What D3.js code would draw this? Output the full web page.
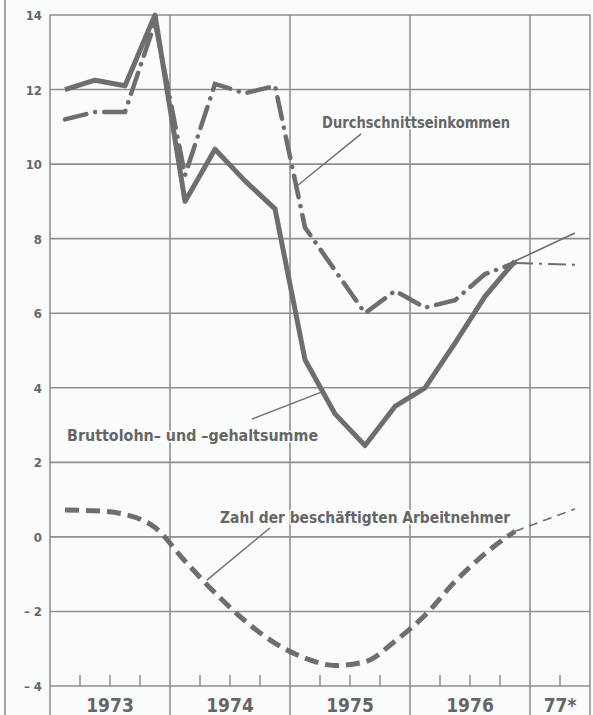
<!DOCTYPE html>
<html>
<head>
<meta charset="utf-8">
<script src="https://d3js.org/d3.v7.min.js"></script>
<style>
    body { margin: 0; background: #fafbfb; }
    text { font-family: "DejaVu Sans Condensed", "DejaVu Sans", sans-serif; fill: #666666; }
</style>
</head>
<body>
<div id="chart"></div>
<script>

    // quarters 1973-1976, plus the 1977 estimate (2nd quarter)
    var quarters = ["1973-1", "1973-2", "1973-3", "1973-4",
                    "1974-1", "1974-2", "1974-3", "1974-4",
                    "1975-1", "1975-2", "1975-3", "1975-4",
                    "1976-1", "1976-2", "1976-3", "1976-4"]
    var forecastQuarter = "1977-2"

    // change against previous year, percent
    var bruttolohn   = [12.0, 12.25, 12.1, 14.0, 9.0, 10.4, 9.55, 8.8, 4.75, 3.3, 2.45, 3.5, 4.0, 5.2, 6.45, 7.4]
    var durchschnitt = [11.2, 11.4, 11.4, 13.8, 9.7, 12.15, 11.9, 12.1, 8.3, 7.15, 6.0, 6.6, 6.15, 6.35, 7.05, 7.35]
    var arbeitnehmer = [0.72, 0.7, 0.6, 0.25, -0.65, -1.5, -2.25, -2.85, -3.25, -3.45, -3.35, -2.8, -2.1, -1.2, -0.45, 0.15]

    // 1977 estimates (thin lines)
    var bruttolohn77 = 8.15
    var durchschnitt77 = 7.3
    var arbeitnehmer77 = 0.75

    var years = ["1973", "1974", "1975", "1976", "77*"]
    var yearStart = [0, 4, 8, 12, 16, 18]      // in quarters
    var yTicks = [-4, -2, 0, 2, 4, 6, 8, 10, 12, 14]

    var W = 593, H = 715
    var margin = { top: 15, right: 3, bottom: 29, left: 50 }

    var svg = d3.select("#chart")
        .append("svg")
        .attr("width", W)
        .attr("height", H)

    // quarter index -> x, centre of quarter is index + 0.5
    var x = d3.scaleLinear()
        .domain([0, 18])
        .range([margin.left, W - margin.right])

    var y = d3.scaleLinear()
        .domain([-4, 14])
        .range([H - margin.bottom, margin.top])

    function qx(q) {
        var p = q.split("-")
        return (+p[0] - 1973) * 4 + (+p[1] - 1) + 0.5
    }

    var gridColor = "#8f8f8f"
    var lineColor = "#6e6e6e"

    // outer left frame line
    svg.append("line")
        .attr("x1", 5).attr("x2", 5)
        .attr("y1", 0).attr("y2", H)
        .attr("stroke", gridColor)
        .attr("stroke-width", 1.6)

    // horizontal grid
    svg.append("g")
        .selectAll("line")
        .data(yTicks)
        .enter()
        .append("line")
        .attr("x1", x(0))
        .attr("x2", x(18))
        .attr("y1", function (d) { return y(d) })
        .attr("y2", function (d) { return y(d) })
        .attr("stroke", gridColor)
        .attr("stroke-width", 1.6)

    // vertical grid at year boundaries, down through the label band
    svg.append("g")
        .selectAll("line")
        .data(yearStart)
        .enter()
        .append("line")
        .attr("x1", function (d) { return x(d) })
        .attr("x2", function (d) { return x(d) })
        .attr("y1", y(14))
        .attr("y2", H)
        .attr("stroke", gridColor)
        .attr("stroke-width", 1.6)

    // quarter ticks on the -4 line
    var qTicks = d3.range(1, 18).filter(function (d) { return yearStart.indexOf(d) < 0 })
    svg.append("g")
        .selectAll("line")
        .data(qTicks)
        .enter()
        .append("line")
        .attr("x1", function (d) { return x(d) })
        .attr("x2", function (d) { return x(d) })
        .attr("y1", y(-4))
        .attr("y2", y(-4) - 11)
        .attr("stroke", gridColor)
        .attr("stroke-width", 1.5)

    // y labels
    svg.append("g")
        .selectAll("text")
        .data(yTicks)
        .enter()
        .append("text")
        .attr("x", 42)
        .attr("y", function (d) { return y(d) + 5 })
        .attr("text-anchor", "end")
        .style("font-size", "13px")
        .style("font-weight", "bold")
        .text(function (d) { return d < 0 ? "\u2013 " + (-d) : d })

    // year labels
    svg.append("g")
        .selectAll("text")
        .data(years)
        .enter()
        .append("text")
        .attr("x", function (d, i) { return x((yearStart[i] + yearStart[i + 1]) / 2) })
        .attr("y", H - 3)
        .attr("text-anchor", "middle")
        .style("font-size", "19px")
        .style("font-weight", "bold")
        .text(function (d) { return d })

    var line = d3.line()
        .x(function (d) { return x(d[0]) })
        .y(function (d) { return y(d[1]) })

    var smooth = d3.line()
        .x(function (d) { return x(d[0]) })
        .y(function (d) { return y(d[1]) })
        .curve(d3.curveMonotoneX)

    function pts(values) {
        return values.map(function (v, i) { return [qx(quarters[i]), v] })
    }
    function tail(values, est) {
        var n = values.length - 1
        return [[qx(quarters[n]), values[n]], [qx(forecastQuarter), est]]
    }

    // thin 1977 estimates
    svg.append("path")
        .attr("d", line(tail(bruttolohn, bruttolohn77)))
        .attr("fill", "none").attr("stroke", lineColor).attr("stroke-width", 1.6)
    svg.append("path")
        .attr("d", line(tail(durchschnitt, durchschnitt77)))
        .attr("fill", "none").attr("stroke", lineColor).attr("stroke-width", 2)
        .attr("stroke-dasharray", "18 6 3 6")
    svg.append("path")
        .attr("d", line(tail(arbeitnehmer, arbeitnehmer77)))
        .attr("fill", "none").attr("stroke", lineColor).attr("stroke-width", 1.6)
        .attr("stroke-dasharray", "9 6")

    // Zahl der beschaeftigten Arbeitnehmer - dashed
    svg.append("path")
        .attr("d", smooth(pts(arbeitnehmer)))
        .attr("fill", "none")
        .attr("stroke", lineColor)
        .attr("stroke-width", 5)
        .attr("stroke-dasharray", "14 7")

    // Durchschnittseinkommen - dash dot
    svg.append("path")
        .attr("d", line(pts(durchschnitt)))
        .attr("fill", "none")
        .attr("stroke", lineColor)
        .attr("stroke-width", 4.5)
        .attr("stroke-linecap", "round")
        .attr("stroke-dasharray", "22 9 0.1 9")

    // Bruttolohn- und -gehaltsumme - solid
    svg.append("path")
        .attr("d", line(pts(bruttolohn)))
        .attr("fill", "none")
        .attr("stroke", lineColor)
        .attr("stroke-width", 5)
        .attr("stroke-linejoin", "round")

    // labels with leader lines (positions in quarter / percent units)
    var labels = [
        { text: "Durchschnittseinkommen", q: 9.07, v: 10.97, len: 188, from: [10.37, 10.81], to: [8.27, 9.44] },
        { text: "Bruttolohn\u2013 und \u2013gehaltsumme", q: 0.57, v: 2.57, len: 251, from: [6.73, 3.16], to: [9.07, 3.89] },
        { text: "Zahl der besch\u00e4ftigten Arbeitnehmer", q: 5.67, v: 0.37, len: 290, from: [7.33, 0.24], to: [5.23, -1.16] }
    ]

    svg.append("g")
        .selectAll("line")
        .data(labels)
        .enter()
        .append("line")
        .attr("x1", function (d) { return x(d.from[0]) })
        .attr("y1", function (d) { return y(d.from[1]) })
        .attr("x2", function (d) { return x(d.to[0]) })
        .attr("y2", function (d) { return y(d.to[1]) })
        .attr("stroke", lineColor)
        .attr("stroke-width", 1.4)

    svg.append("g")
        .selectAll("text")
        .data(labels)
        .enter()
        .append("text")
        .attr("x", function (d) { return x(d.q) })
        .attr("y", function (d) { return y(d.v) })
        .attr("textLength", function (d) { return d.len })
        .attr("lengthAdjust", "spacingAndGlyphs")
        .style("font-size", "15.5px")
        .style("font-weight", "bold")
        .style("stroke", "#fafbfb")
        .style("stroke-width", 3)
        .style("paint-order", "stroke")
        .text(function (d) { return d.text })

</script>
</body>
</html>
